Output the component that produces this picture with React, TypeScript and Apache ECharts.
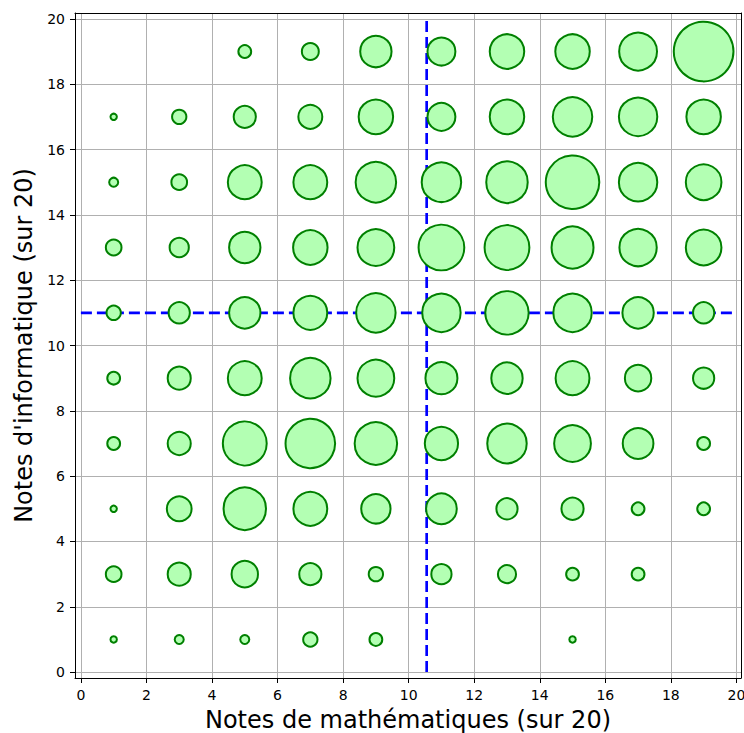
import React, { useEffect, useRef } from "react";
import * as echarts from "echarts";

// Score classes (centres of 2-point bins)
const mathScores = [1, 3, 5, 7, 9, 11, 13, 15, 17, 19];
const infoScores = [1, 3, 5, 7, 9, 11, 13, 15, 17, 19];

// Number of students per cell, one array per computer-science score (math 1..19)
const countsInfo1 = [1, 2, 2, 5, 4, 0, 0, 1, 0, 0];
const countsInfo3 = [6, 13, 17, 12, 5, 10, 8, 4, 4, 0];
const countsInfo5 = [1, 15, 44, 28, 21, 23, 11, 12, 4, 4];
const countsInfo7 = [4, 13, 47, 60, 44, 27, 38, 33, 23, 4];
const countsInfo9 = [4, 13, 28, 40, 33, 25, 24, 28, 17, 11];
const countsInfo11 = [5, 11, 24, 28, 38, 36, 46, 36, 24, 11];
const countsInfo13 = [6, 9, 24, 29, 33, 51, 49, 43, 34, 31];
const countsInfo15 = [2, 6, 28, 28, 40, 38, 42, 70, 36, 31];
const countsInfo17 = [1, 5, 12, 14, 29, 19, 29, 38, 36, 29];
const countsInfo19 = [0, 0, 4, 7, 24, 19, 29, 29, 35, 87];

const countRows = [
  countsInfo1, countsInfo3, countsInfo5, countsInfo7, countsInfo9,
  countsInfo11, countsInfo13, countsInfo15, countsInfo17, countsInfo19,
];

// Mean lines
const meanMath = 10.55;
const meanInfo = 11;

const tickValues = [0, 2, 4, 6, 8, 10, 12, 14, 16, 18, 20];

const xTitle = "Notes de mathématiques (sur 20)";
const yTitle = "Notes d'informatique (sur 20)";

export default function App() {
  const ref = useRef<HTMLDivElement>(null);

  useEffect(() => {
    if (!ref.current) return;
    const chart = echarts.init(ref.current, null, { renderer: "svg" });

    const points: number[][] = [];
    countRows.forEach((row, i) => {
      row.forEach((c, j) => {
        if (c > 0) points.push([mathScores[j], infoScores[i], c]);
      });
    });

    const font = "DejaVu Sans";
    const xMin = -0.18, xMax = 20.14, yMin = -0.18, yMax = 20.18;

    const mainAxisCommon = {
      type: "value" as const,
      axisLine: { show: true, onZero: false, lineStyle: { color: "#000", width: 1 } },
      axisTick: {
        show: true,
        inside: false,
        length: 5,
        customValues: tickValues,
        lineStyle: { color: "#000", width: 1 },
      },
      axisLabel: {
        show: true,
        customValues: tickValues,
        color: "#000",
        fontFamily: font,
        fontSize: 14,
        margin: 10,
      },
      splitLine: { show: true, lineStyle: { color: "#b0b0b0", width: 1 } },
      nameLocation: "middle" as const,
      nameTextStyle: { fontFamily: font, fontSize: 24, lineHeight: 24, color: "#000" },
    };

    const frameAxis = {
      type: "value" as const,
      axisLine: { show: true, onZero: false, lineStyle: { color: "#000", width: 1 } },
      axisTick: { show: false },
      axisLabel: { show: false },
      splitLine: { show: false },
    };

    chart.setOption({
      animation: false,
      backgroundColor: "#fff",
      grid: { left: 75, right: 3, top: 13, bottom: 55, containLabel: false, outerBoundsMode: "none" },
      xAxis: [
        { ...mainAxisCommon, position: "bottom", min: xMin, max: xMax, name: xTitle, nameGap: 30 },
        { ...frameAxis, position: "top", min: xMin, max: xMax },
      ],
      yAxis: [
        { ...mainAxisCommon, position: "left", min: yMin, max: yMax, name: yTitle, nameGap: 38 },
        { ...frameAxis, position: "right", min: yMin, max: yMax },
      ],
      series: [
        {
          type: "line",
          z: 1,
          symbol: "none",
          silent: true,
          data: [[0, meanInfo], [20, meanInfo]],
          lineStyle: { color: "#0000ff", width: 2.7, type: [11, 5] },
        },
        {
          type: "line",
          z: 1,
          symbol: "none",
          silent: true,
          data: [[meanMath, 0], [meanMath, 20]],
          lineStyle: { color: "#0000ff", width: 2.7, type: [11, 5] },
        },
        {
          type: "scatter",
          z: 3,
          data: points,
          symbol: "circle",
          symbolSize: (v: number[]) => 6.4 * Math.sqrt(v[2]),
          itemStyle: { color: "#b3ffb3", borderColor: "#008000", borderWidth: 2, opacity: 1 },
        },
      ],
    });

    return () => chart.dispose();
  }, []);

  return (
    <div
      ref={ref}
      style={{ position: "fixed", left: 0, top: 0, width: 744, height: 733, background: "#fff" }}
    />
  );
}
